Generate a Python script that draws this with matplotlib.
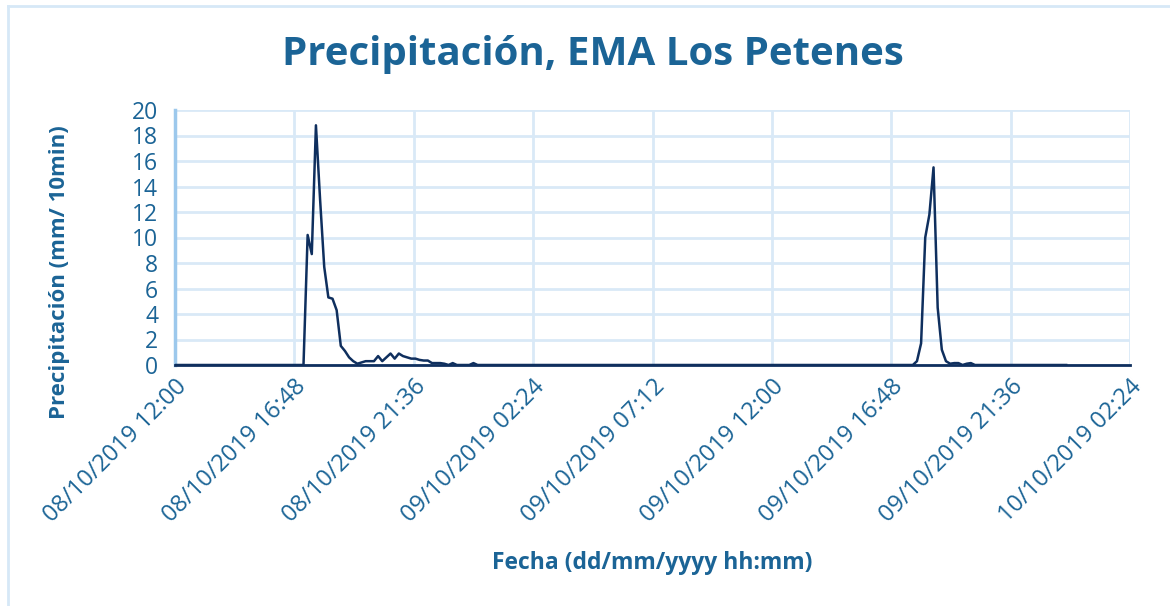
import matplotlib
matplotlib.use("Agg")
import matplotlib.pyplot as plt
import pandas as pd
from matplotlib.lines import Line2D

plt.rcParams['font.family'] = ['Open Sans', 'DejaVu Sans']

# Data (10-min precipitation, mm)
times = [
    "2019-10-08 12:00", "2019-10-08 17:10", "2019-10-08 17:20", "2019-10-08 17:30",
    "2019-10-08 17:40", "2019-10-08 17:50", "2019-10-08 18:00", "2019-10-08 18:10",
    "2019-10-08 18:20", "2019-10-08 18:30", "2019-10-08 18:40", "2019-10-08 18:50",
    "2019-10-08 19:00", "2019-10-08 19:10", "2019-10-08 19:20", "2019-10-08 19:30",
    "2019-10-08 19:40", "2019-10-08 19:50", "2019-10-08 20:00", "2019-10-08 20:10",
    "2019-10-08 20:20", "2019-10-08 20:30", "2019-10-08 20:40", "2019-10-08 20:50",
    "2019-10-08 21:00", "2019-10-08 21:10", "2019-10-08 21:20", "2019-10-08 21:30",
    "2019-10-08 21:40", "2019-10-08 21:50", "2019-10-08 22:00", "2019-10-08 22:10",
    "2019-10-08 22:20", "2019-10-08 22:30", "2019-10-08 22:40", "2019-10-08 22:50",
    "2019-10-08 23:00", "2019-10-08 23:10", "2019-10-08 23:20", "2019-10-08 23:50",
    "2019-10-09 00:00", "2019-10-09 00:10",
    "2019-10-09 17:40", "2019-10-09 17:50", "2019-10-09 18:00", "2019-10-09 18:10",
    "2019-10-09 18:20", "2019-10-09 18:30", "2019-10-09 18:40", "2019-10-09 18:50",
    "2019-10-09 19:00", "2019-10-09 19:10", "2019-10-09 19:20", "2019-10-09 19:30",
    "2019-10-09 19:40", "2019-10-09 19:50", "2019-10-09 20:00", "2019-10-09 20:10",
    "2019-10-09 23:50",
]
precip = [
    0, 0, 10.2, 8.7,
    18.8, 13.0, 7.7, 5.3,
    5.2, 4.3, 1.5, 1.1,
    0.6, 0.3, 0.1, 0.2,
    0.3, 0.3, 0.3, 0.7,
    0.3, 0.6, 0.9, 0.5,
    0.9, 0.7, 0.6, 0.5,
    0.5, 0.4, 0.35, 0.35,
    0.15, 0.15, 0.15, 0.1,
    0, 0.15, 0, 0,
    0.15, 0,
    0, 0.3, 1.7, 10.0,
    11.8, 15.5, 4.5, 1.2,
    0.3, 0.1, 0.15, 0.15,
    0, 0.1, 0.15, 0,
    0,
]
tick_labels = ["08/10/2019 12:00", "08/10/2019 16:48", "08/10/2019 21:36",
               "09/10/2019 02:24", "09/10/2019 07:12", "09/10/2019 12:00",
               "09/10/2019 16:48", "09/10/2019 21:36", "10/10/2019 02:24"]
y_ticks = [0, 2, 4, 6, 8, 10, 12, 14, 16, 18, 20]

text_color = "#1B6496"
grid_color = "#D9E9F7"
line_color = "#0F2F5E"

t = pd.to_datetime(times)
tick_pos = pd.to_datetime(tick_labels, format="%d/%m/%Y %H:%M")

fig = plt.figure(figsize=(11.7, 6.06), dpi=100)
ax = fig.add_axes([175/1170, 1-365/606, (1130-175)/1170, (365-110)/606])

ax.plot(t, precip, color=line_color, lw=1.8, zorder=3, solid_joinstyle='round')

ax.set_xlim(tick_pos[0], tick_pos[-1])
ax.set_ylim(0, 20)
ax.set_yticks(y_ticks)
ax.set_xticks(tick_pos)
ax.set_xticklabels(tick_labels, rotation=45, ha='right', rotation_mode='anchor')
ax.tick_params(axis='x', length=0, labelsize=17, colors=text_color, pad=7)
ax.tick_params(axis='y', length=0, labelsize=16.5, colors=text_color, pad=12)

ax.grid(True, color=grid_color, lw=2)
ax.set_axisbelow(True)
for s in ['top', 'right']:
    ax.spines[s].set_visible(False)
ax.spines['left'].set_color("#9CC8EC")
ax.spines['left'].set_linewidth(2.5)
ax.spines['bottom'].set_color(line_color)
ax.spines['bottom'].set_linewidth(2)
ax.spines['bottom'].set_zorder(4)

fig.text(593/1170, 1-55/606, "Precipitación, EMA Los Petenes", ha='center', va='center',
         fontsize=29, fontweight='bold', color=text_color)
fig.text(60/1170, 1-272/606, "Precipitación (mm/ 10min)", ha='center', va='center',
         rotation=90, fontsize=16, fontweight='bold', color=text_color)
fig.text(652/1170, 1-563/606, "Fecha (dd/mm/yyyy hh:mm)", ha='center', va='center',
         fontsize=16.5, fontweight='bold', color=text_color)

# chart border (left and top)
fig.add_artist(Line2D([8/1170, 8/1170], [0, 1-6/606], transform=fig.transFigure,
                      color="#D6E8F7", lw=2))
fig.add_artist(Line2D([8/1170, 1], [1-6/606, 1-6/606], transform=fig.transFigure,
                      color="#D6E8F7", lw=2))

fig.savefig("out.png", dpi=100)
